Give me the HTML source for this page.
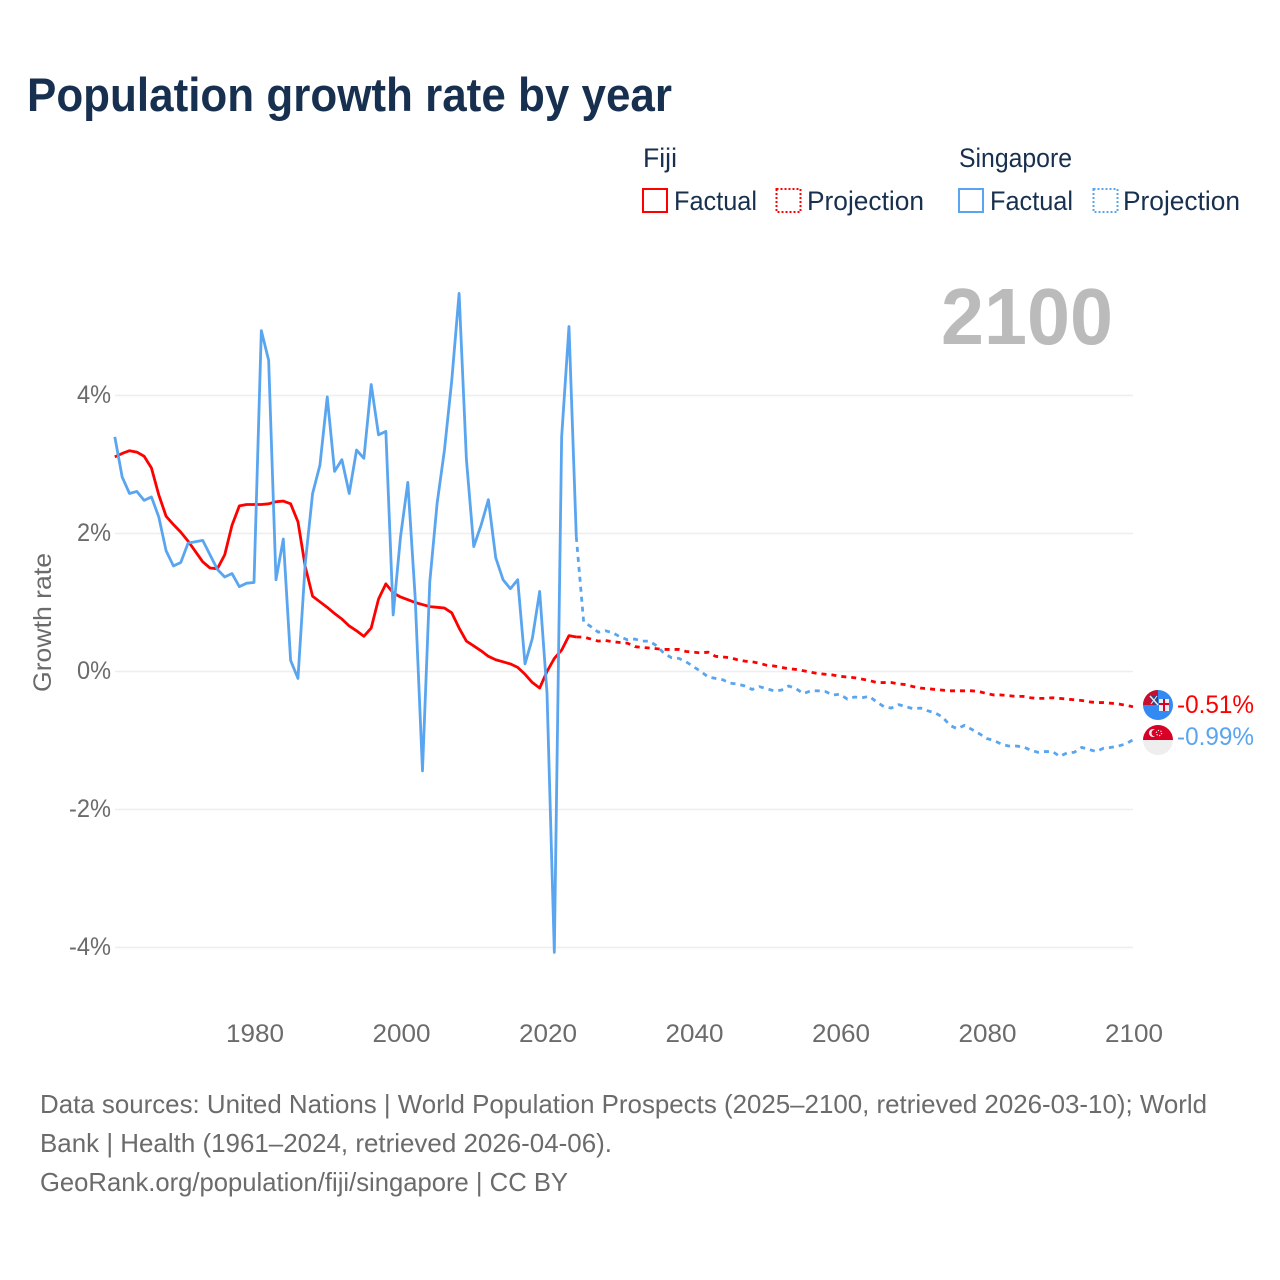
<!DOCTYPE html>
<html lang="en">
<head>
<meta charset="utf-8">
<title>Population growth rate by year</title>
<style>
html,body{margin:0;padding:0;background:#fff;}
svg{display:block;font-family:"Liberation Sans",sans-serif;}
</style>
</head>
<body>
<svg id="chart" width="1280" height="1280" viewBox="0 0 1280 1280" xmlns="http://www.w3.org/2000/svg">
<rect x="0" y="0" width="1280" height="1280" fill="#ffffff"/>
<text x="27" y="111" font-size="47" font-weight="700" fill="#18304f" textLength="645" lengthAdjust="spacingAndGlyphs">Population growth rate by year</text>

<g font-size="27" fill="#18304f">
<text x="643" y="167" textLength="34" lengthAdjust="spacingAndGlyphs">Fiji</text>
<text x="959" y="167" textLength="113" lengthAdjust="spacingAndGlyphs">Singapore</text>
<rect x="643" y="189" width="24" height="23" fill="none" stroke="#ff0000" stroke-width="2"/>
<text x="674" y="210" textLength="83" lengthAdjust="spacingAndGlyphs">Factual</text>
<rect x="776.5" y="189" width="24" height="23" fill="none" stroke="#ff0000" stroke-width="2" stroke-dasharray="2 2"/>
<text x="807" y="210" textLength="117" lengthAdjust="spacingAndGlyphs">Projection</text>
<rect x="959" y="189" width="24" height="23" fill="none" stroke="#5aa5ef" stroke-width="2"/>
<text x="990" y="210" textLength="83" lengthAdjust="spacingAndGlyphs">Factual</text>
<rect x="1093.5" y="189" width="24" height="23" fill="none" stroke="#5aa5ef" stroke-width="2" stroke-dasharray="2 2"/>
<text x="1123" y="210" textLength="117" lengthAdjust="spacingAndGlyphs">Projection</text>
</g>

<g id="grid"></g>
<g id="yticks" font-size="25" fill="#6b6b6b"></g>
<g id="xticks" font-size="25" fill="#6b6b6b"></g>
<text transform="translate(51 692) rotate(-90)" font-size="25" fill="#6b6b6b" textLength="139" lengthAdjust="spacingAndGlyphs">Growth rate</text>

<text x="941" y="344" font-size="80" font-weight="700" fill="#bbbbbb" textLength="172" lengthAdjust="spacingAndGlyphs">2100</text>

<g id="series"></g>

<defs>
<clipPath id="flag-clip-fiji"><circle cx="1158" cy="705" r="15"/></clipPath>
<clipPath id="flag-clip-sg"><circle cx="1158" cy="740" r="15"/></clipPath>
</defs>
<g clip-path="url(#flag-clip-sg)">
<rect x="1143" y="725" width="30" height="30" fill="#eeeeee"/>
<rect x="1143" y="725" width="30" height="15" fill="#d80027"/>
<circle cx="1153" cy="733" r="4" fill="#eeeeee"/>
<circle cx="1155" cy="733" r="3.5" fill="#d80027"/>
<circle cx="1159" cy="733" r="2.6" fill="none" stroke="#eeeeee" stroke-width="1.2" stroke-dasharray="1.2 1.5"/>
</g>
<g clip-path="url(#flag-clip-fiji)">
<rect x="1143" y="690" width="30" height="30" fill="#338af3"/>
<rect x="1143" y="690" width="15" height="15" fill="#c8102e"/>
<path d="M1149 696h9v9h-4z" fill="#31448f"/>
<path d="M1150 696l8 9" stroke="#eeeeee" stroke-width="1.5" fill="none"/>
<path d="M1157 696l-6 8" stroke="#eeeeee" stroke-width="1" fill="none"/>
<rect x="1159" y="699" width="10" height="12" fill="#eeeeee"/>
<rect x="1163" y="699" width="2" height="12" fill="#d80027"/>
<rect x="1159" y="703" width="10" height="2" fill="#d80027"/>
</g>
<text id="end-fiji" x="1177" y="713" font-size="25" fill="#ff0000" textLength="77" lengthAdjust="spacingAndGlyphs"></text>
<text id="end-sg" x="1177" y="745" font-size="25" fill="#5aa5ef" textLength="77" lengthAdjust="spacingAndGlyphs"></text>

<g font-size="26" fill="#6b6b6b">
<text x="40" y="1113" textLength="1167" lengthAdjust="spacingAndGlyphs">Data sources: United Nations | World Population Prospects (2025–2100, retrieved 2026-03-10); World</text>
<text x="40" y="1152" textLength="572" lengthAdjust="spacingAndGlyphs">Bank | Health (1961–2024, retrieved 2026-04-06).</text>
<text x="40" y="1191" textLength="528" lengthAdjust="spacingAndGlyphs">GeoRank.org/population/fiji/singapore | CC BY</text>
</g>
</svg>
<script>
// Factual series start in 1961; projection series start in 2024.
const factualStartYear = 1961;
const projectionStartYear = 2024;
const fijiFactual = [3.11,3.16,3.20,3.18,3.12,2.95,2.56,2.25,2.13,2.02,1.89,1.74,1.59,1.50,1.49,1.69,2.12,2.40,2.42,2.42,2.42,2.43,2.46,2.47,2.43,2.17,1.52,1.09,1.01,0.93,0.84,0.76,0.66,0.59,0.51,0.63,1.05,1.27,1.14,1.08,1.04,1.00,0.97,0.94,0.93,0.92,0.85,0.63,0.44,0.37,0.30,0.22,0.17,0.14,0.11,0.06,-0.04,-0.16,-0.24,0.00,0.19,0.31,0.52,0.50];
const singaporeFactual = [3.40,2.82,2.58,2.61,2.48,2.53,2.24,1.75,1.53,1.58,1.86,1.88,1.90,1.69,1.48,1.37,1.42,1.23,1.28,1.29,4.94,4.51,1.33,1.92,0.16,-0.10,1.57,2.58,2.99,3.98,2.90,3.07,2.58,3.21,3.09,4.16,3.43,3.48,0.82,1.95,2.74,1.08,-1.44,1.30,2.44,3.21,4.22,5.48,3.07,1.81,2.12,2.49,1.65,1.33,1.20,1.33,0.11,0.48,1.16,-0.31,-4.07,3.40,5.00,1.95];
const fijiProjection = [0.50,0.50,0.47,0.44,0.45,0.43,0.42,0.41,0.36,0.35,0.34,0.33,0.32,0.32,0.32,0.29,0.28,0.27,0.28,0.22,0.21,0.20,0.17,0.15,0.14,0.12,0.09,0.08,0.06,0.04,0.03,0.01,-0.01,-0.03,-0.04,-0.05,-0.07,-0.08,-0.09,-0.11,-0.13,-0.16,-0.16,-0.16,-0.18,-0.19,-0.22,-0.24,-0.25,-0.26,-0.27,-0.28,-0.28,-0.28,-0.28,-0.29,-0.32,-0.34,-0.34,-0.35,-0.36,-0.36,-0.38,-0.39,-0.39,-0.38,-0.39,-0.40,-0.41,-0.42,-0.44,-0.45,-0.45,-0.46,-0.47,-0.49,-0.51];
const singaporeProjection = [1.95,0.72,0.65,0.57,0.59,0.56,0.50,0.46,0.47,0.44,0.44,0.37,0.26,0.20,0.19,0.14,0.07,0.00,-0.08,-0.10,-0.12,-0.17,-0.18,-0.21,-0.26,-0.22,-0.25,-0.28,-0.27,-0.21,-0.25,-0.32,-0.28,-0.28,-0.29,-0.34,-0.33,-0.40,-0.37,-0.38,-0.36,-0.44,-0.51,-0.53,-0.48,-0.51,-0.54,-0.53,-0.57,-0.60,-0.66,-0.78,-0.83,-0.78,-0.84,-0.90,-0.97,-1.00,-1.05,-1.08,-1.08,-1.09,-1.14,-1.17,-1.16,-1.16,-1.23,-1.18,-1.17,-1.10,-1.13,-1.16,-1.11,-1.10,-1.08,-1.05,-0.99];
const xTickLabels = [1980,2000,2020,2040,2060,2080,2100];
const yTickLabels = [4,2,0,-2,-4];
const endLabels = ["-0.51%","-0.99%"];

const NS = "http://www.w3.org/2000/svg";
function xScale(year){ return 1133 + (year - 2100) * 7.325; }
function yScale(value){ return 671.5 - value * 69; }
function pathFrom(startYear, values){
  return values.map(function(v,i){
    return (i ? "L" : "M") + xScale(startYear + i).toFixed(2) + " " + yScale(v).toFixed(2);
  }).join("");
}

const grid = document.getElementById("grid");
const yticks = document.getElementById("yticks");
yTickLabels.forEach(function(t){
  const line = document.createElementNS(NS,"line");
  
  
  line.setAttribute("x1",115);
  line.setAttribute("x2",1133);
  line.setAttribute("y1",yScale(t));
  line.setAttribute("y2",yScale(t));
  line.setAttribute("stroke","#eeeeee");
  line.setAttribute("stroke-width","1.5");
  grid.appendChild(line);
  const label = document.createElementNS(NS,"text");
  
  
  label.setAttribute("x",111);
  label.setAttribute("y",yScale(t)+7.5);
  label.setAttribute("text-anchor","end");
  label.setAttribute("textLength", t < 0 ? 42 : 34);
  label.setAttribute("lengthAdjust","spacingAndGlyphs");
  label.textContent = t + "%";
  yticks.appendChild(label);
});

const xticks = document.getElementById("xticks");
xTickLabels.forEach(function(t){
  const label = document.createElementNS(NS,"text");
  
  
  label.setAttribute("x",xScale(t) + 1);
  label.setAttribute("y",1042);
  label.setAttribute("text-anchor","middle");
  label.setAttribute("textLength",58);
  label.setAttribute("lengthAdjust","spacingAndGlyphs");
  label.textContent = t;
  xticks.appendChild(label);
});

const series = document.getElementById("series");
function addLine(name, startYear, values, color, dash){
  const p = document.createElementNS(NS,"path");
  
  
  p.setAttribute("d",pathFrom(startYear,values));
  p.setAttribute("fill","none");
  p.setAttribute("stroke",color);
  p.setAttribute("stroke-width","2.8");
  p.setAttribute("stroke-linejoin","round");
  if(dash){ p.setAttribute("stroke-dasharray",dash); }
  series.appendChild(p);
}
addLine("fiji-projection-line",projectionStartYear,fijiProjection,"#ff0000","5 5");
addLine("singapore-projection-line",projectionStartYear,singaporeProjection,"#5aa5ef","5 5");
addLine("fiji-factual-line",factualStartYear,fijiFactual,"#ff0000",null);
addLine("singapore-factual-line",factualStartYear,singaporeFactual,"#5aa5ef",null);

document.getElementById("end-fiji").textContent = endLabels[0];
document.getElementById("end-sg").textContent = endLabels[1];
</script>
</body>
</html>
